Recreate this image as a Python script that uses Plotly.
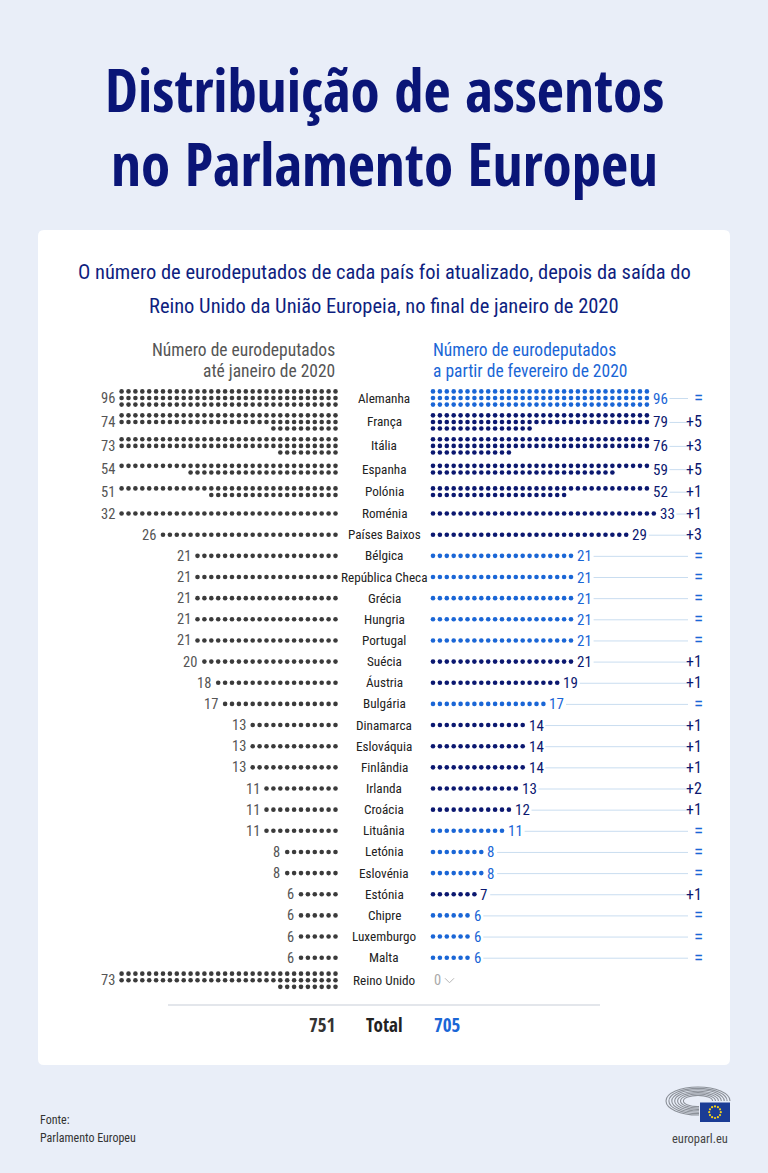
import math
import plotly.graph_objects as go

# ---------------- data ----------------
countries = ["Alemanha", "França", "Itália", "Espanha", "Polónia", "Roménia",
             "Países Baixos", "Bélgica", "República Checa", "Grécia", "Hungria",
             "Portugal", "Suécia", "Áustria", "Bulgária", "Dinamarca", "Eslováquia",
             "Finlândia", "Irlanda", "Croácia", "Lituânia", "Letónia", "Eslovénia",
             "Estónia", "Chipre", "Luxemburgo", "Malta", "Reino Unido"]
seats_before = [96, 74, 73, 54, 51, 32, 26, 21, 21, 21, 21, 21, 20, 18, 17, 13, 13,
                13, 11, 11, 11, 8, 8, 6, 6, 6, 6, 73]
seats_after = [96, 79, 76, 59, 52, 33, 29, 21, 21, 21, 21, 21, 21, 19, 17, 14, 14,
               14, 13, 12, 11, 8, 8, 7, 6, 6, 6, 0]

title_lines = ["Distribuição de assentos", "no Parlamento Europeu"]
subtitle_lines = ["O número de eurodeputados de cada país foi atualizado, depois da saída do",
                  "Reino Unido da União Europeia, no final de janeiro de 2020"]
header_left = ["Número de eurodeputados", "até janeiro de 2020"]
header_right = ["Número de eurodeputados", "a partir de fevereiro de 2020"]
total_label = "Total"
source_lines = ["Fonte:", "Parlamento Europeu"]
site_label = "europarl.eu"

# ---------------- style / layout constants ----------------
W, H = 768, 1173
FONT = "Roboto Condensed, Open Sans Condensed, DejaVu Sans Condensed, sans-serif"
BOLD_FONT = "Open Sans Condensed, Roboto Condensed, sans-serif"
BG = "#e9eef8"
NAVY = "#0b1870"
BLUE = "#1a66d6"
GREY_DOT = "#3b3b3b"
GREY_TXT = "#555555"
LINE_BLUE = "#c9ddf0"

PER_ROW = 32
STEP = 6.9
LEFT_END = 335.5
RIGHT_START = 433.0
ROW_PITCH = 21.15
SUB_GAP = 6.6
FIRST_Y = 398.0
CENTER_X = 384
CHANGE_X = 704
LINE_END = 688
DOT_SIZE = 4.6


def split_rows(n):
    if n <= 0:
        return []
    if n <= PER_ROW + 1:
        return [n]
    rows = []
    while n > 0:
        rows.append(min(PER_ROW, n))
        n -= PER_ROW
    return rows


rows_b = [split_rows(v) for v in seats_before]
rows_a = [split_rows(v) for v in seats_after]
nrows = [max(len(a), len(b), 1) for a, b in zip(rows_a, rows_b)]

row_y = []
for i in range(len(countries)):
    if i == 0:
        row_y.append(FIRST_Y)
    else:
        extra = 0.7 * ((nrows[i - 1] - 1) + (nrows[i] - 1))
        row_y.append(row_y[-1] + ROW_PITCH + extra)

fig = go.Figure()
shapes = []
ann = []


def text(x, y, s, size, color, anchor="center", bold=False, family=FONT):
    ann.append(dict(x=x, y=y, xref="x", yref="y", text=s, showarrow=False,
                    xanchor=anchor, yanchor="middle",
                    font=dict(family=family, size=size, color=color,
                              weight=700 if bold else 400)))


# background card (rounded)
x0, y0, x1, y1, r = 38, 230, 730, 1065, 6
card = (f"M {x0+r},{y0} L {x1-r},{y0} Q {x1},{y0} {x1},{y0+r} L {x1},{y1-r} "
        f"Q {x1},{y1} {x1-r},{y1} L {x0+r},{y1} Q {x0},{y1} {x0},{y1-r} "
        f"L {x0},{y0+r} Q {x0},{y0} {x0+r},{y0} Z")
shapes.append(dict(type="path", path=card, xref="x", yref="y", fillcolor="white",
                   line=dict(width=0), layer="below"))

# titles
text(CENTER_X, 89, title_lines[0], 59, "#0a1577", bold=True, family=BOLD_FONT)
text(CENTER_X, 163, title_lines[1], 59, "#0a1577", bold=True, family=BOLD_FONT)
text(CENTER_X, 272, subtitle_lines[0], 20.5, "#0f1f80")
text(CENTER_X, 306, subtitle_lines[1], 20.5, "#0f1f80")

# column headers
text(LEFT_END + 1, 350, header_left[0], 17.5, GREY_TXT, anchor="right")
text(LEFT_END + 1, 371, header_left[1], 17.5, GREY_TXT, anchor="right")
text(RIGHT_START - 2, 350, header_right[0], 17.5, BLUE, anchor="left")
text(RIGHT_START - 2, 371, header_right[1], 17.5, BLUE, anchor="left")

lx, ly = [], []
rx_n, ry_n, rx_b, ry_b = [], [], [], []

for i, name in enumerate(countries):
    y = row_y[i]
    # left dots
    rb = rows_b[i]
    for k, cnt in enumerate(rb):
        yy = y + (k - (len(rb) - 1) / 2) * SUB_GAP
        for j in range(cnt):
            lx.append(LEFT_END - j * STEP)
            ly.append(yy)
    if rb:
        text(LEFT_END - (rb[0] - 1) * STEP - 5, y + 0.5, str(seats_before[i]), 14.5,
             GREY_TXT, anchor="right")
    # country
    text(CENTER_X, y, name, 13.2, "#222222")
    # right dots
    ra = rows_a[i]
    diff = seats_after[i] - seats_before[i]
    changed = diff != 0
    col = NAVY if changed else BLUE
    for k, cnt in enumerate(ra):
        yy = y + (k - (len(ra) - 1) / 2) * SUB_GAP
        for j in range(cnt):
            if changed:
                rx_n.append(RIGHT_START + j * STEP)
                ry_n.append(yy)
            else:
                rx_b.append(RIGHT_START + j * STEP)
                ry_b.append(yy)
    if ra:
        lab_x = RIGHT_START + (max(ra) - 1) * STEP + 4
        s = str(seats_after[i])
        text(lab_x, y + 0.5, s, 15, col, anchor="left")
        lstart = lab_x + 6.8 * len(s) + 5
        shapes.append(dict(type="line", x0=lstart, x1=LINE_END, y0=y + 0.5, y1=y + 0.5,
                           xref="x", yref="y", line=dict(color=LINE_BLUE, width=1),
                           layer="below"))
        if diff > 0:
            text(CHANGE_X, y, f"+{diff}", 16, NAVY, anchor="right")
        elif diff == 0:
            text(CHANGE_X + 0.5, y - 0.5, "=", 19, BLUE, anchor="right")
    else:
        # seats gone
        text(RIGHT_START - 1, y, str(seats_after[i]), 14.5, "#a9a9a9", anchor="left")
        shapes.append(dict(type="path", xref="x", yref="y", layer="below",
                           path=f"M 445,{y-2} L 449.5,{y+2.5} L 454,{y-2}",
                           line=dict(color="#b5b5b5", width=1)))

fig.add_trace(go.Scatter(x=lx, y=ly, mode="markers", hoverinfo="skip",
                         marker=dict(size=DOT_SIZE, color=GREY_DOT, line=dict(width=0))))
fig.add_trace(go.Scatter(x=rx_n, y=ry_n, mode="markers", hoverinfo="skip",
                         marker=dict(size=DOT_SIZE, color=NAVY, line=dict(width=0))))
fig.add_trace(go.Scatter(x=rx_b, y=ry_b, mode="markers", hoverinfo="skip",
                         marker=dict(size=DOT_SIZE, color=BLUE, line=dict(width=0))))

# separator and totals
shapes.append(dict(type="line", x0=168, x1=600, y0=1005, y1=1005, xref="x", yref="y",
                   line=dict(color="#e3e6eb", width=2), layer="below"))
text(LEFT_END + 1, 1025, str(sum(seats_before)), 19, "#333333", anchor="right",
     bold=True, family=BOLD_FONT)
text(CENTER_X, 1025, total_label, 19, "#222222", bold=True, family=BOLD_FONT)
text(RIGHT_START - 1, 1025, str(sum(seats_after)), 19, BLUE, anchor="left",
     bold=True, family=BOLD_FONT)

# footer
text(38, 1120, source_lines[0], 12, "#333333", anchor="left")
text(38, 1138, source_lines[1], 12, "#333333", anchor="left")
text(730, 1138, site_label, 12.5, "#444444", anchor="right")

# logo: hemicycle rings + flag
for k in range(7):
    rxx = 32 - k * 2.9
    ryy = 14 - k * 1.4
    cx, cy = 698, 1101
    shapes.append(dict(type="circle", xref="x", yref="y", layer="below",
                       x0=cx - rxx, x1=cx + rxx, y0=cy - ryy, y1=cy + ryy,
                       line=dict(color="#8c9199", width=1.1)))
shapes.append(dict(type="rect", xref="x", yref="y", layer="below",
                   x0=699, x1=731, y0=1101, y1=1123, fillcolor=BG, line=dict(width=0)))
shapes.append(dict(type="rect", xref="x", yref="y", layer="below",
                   x0=700, x1=730, y0=1102.5, y1=1122, fillcolor="#1b3c95",
                   line=dict(width=0)))
sx = [715 + 5.8 * math.cos(2 * math.pi * t / 12) for t in range(12)]
sy = [1112.2 + 5.8 * math.sin(2 * math.pi * t / 12) for t in range(12)]
fig.add_trace(go.Scatter(x=sx, y=sy, mode="markers", hoverinfo="skip",
                         marker=dict(size=2.2, color="#f5d21a", line=dict(width=0))))

fig.update_layout(
    width=W, height=H, margin=dict(l=0, r=0, t=0, b=0),
    paper_bgcolor=BG, plot_bgcolor=BG, showlegend=False,
    xaxis=dict(range=[0, W], visible=False, fixedrange=True),
    yaxis=dict(range=[H, 0], visible=False, fixedrange=True),
    shapes=shapes, annotations=ann,
)

fig.write_html("out.html", config={"displayModeBar": False},
               post_script="document.body.style.margin='0';")
